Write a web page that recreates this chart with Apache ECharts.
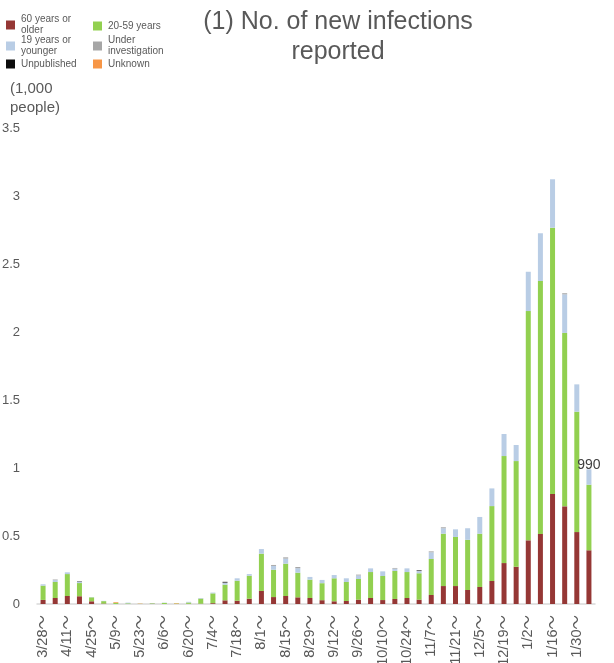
<!DOCTYPE html>
<html>
<head>
<meta charset="utf-8">
<script src="https://cdn.jsdelivr.net/npm/echarts@6/dist/echarts.min.js"></script>
<style>
  html, body { margin: 0; padding: 0; background: #ffffff; }
  #chart { width: 614px; height: 663px; }
</style>
</head>
<body>
<div id="chart"></div>
<script>
// Week start dates (each bar = one week), values in thousands of people
const categories = ['3/28～','4/4～','4/11～','4/18～','4/25～','5/2～','5/9～','5/16～','5/23～','5/30～',
  '6/6～','6/13～','6/20～','6/27～','7/4～','7/11～','7/18～','7/25～','8/1～','8/8～',
  '8/15～','8/22～','8/29～','9/5～','9/12～','9/19～','9/26～','10/3～','10/10～','10/17～',
  '10/24～','10/31～','11/7～','11/14～','11/21～','11/28～','12/5～','12/12～','12/19～','12/26～',
  '1/2～','1/9～','1/16～','1/23～','1/30～','2/6～'];

const age60plus = [0.030,0.044,0.059,0.057,0.020,0.003,0,0,0,0,
  0,0,0.001,0.002,0.006,0.027,0.024,0.039,0.096,0.051,
  0.059,0.049,0.044,0.028,0.020,0.022,0.032,0.044,0.029,0.037,
  0.044,0.032,0.066,0.132,0.132,0.103,0.125,0.169,0.301,0.274,
  0.468,0.515,0.809,0.718,0.529,0.395];

const age20to59 = [0.105,0.118,0.161,0.097,0.029,0.018,0.008,0.005,0.001,0.004,
  0.008,0.003,0.010,0.038,0.072,0.115,0.147,0.169,0.274,0.201,
  0.237,0.181,0.135,0.125,0.169,0.140,0.152,0.191,0.177,0.206,
  0.191,0.194,0.265,0.385,0.361,0.369,0.392,0.551,0.787,0.777,
  1.686,1.860,1.958,1.275,0.885,0.482];

const age19under = [0.010,0.014,0.013,0.010,0.002,0.002,0.001,0.005,0,0,
  0.002,0,0.005,0.004,0.006,0.012,0.018,0.012,0.034,0.028,
  0.038,0.033,0.020,0.024,0.024,0.027,0.026,0.027,0.034,0.017,
  0.027,0.015,0.049,0.040,0.056,0.085,0.123,0.130,0.162,0.118,
  0.289,0.351,0.356,0.284,0.201,0.113];

const underInvestigation = [0,0.004,0,0.003,0,0,0,0,0,0.002,
  0,0,0,0,0,0.004,0,0,0,0.007,
  0.009,0.009,0,0,0,0,0.006,0,0,0.005,
  0,0.003,0.007,0.007,0,0,0,0,0,0,
  0,0,0,0.008,0,0];

const unpublished = [0,0,0,0.002,0,0,0,0,0,0,
  0,0,0,0,0,0.005,0,0,0,0,
  0,0,0,0,0,0,0,0,0,0,
  0,0.004,0,0,0,0,0,0,0,0,
  0,0,0,0,0,0];

const unknown = [0,0,0,0,0,0,0.005,0,0.002,0,
  0,0.003,0,0,0,0,0,0,0,0,
  0,0,0,0,0,0,0,0,0,0,
  0,0,0,0,0,0,0,0,0,0,
  0,0,0,0,0,0];

const yTicks = [0, 0.5, 1, 1.5, 2, 2.5, 3, 3.5];

const seriesNames = ['60 years or older','20-59 years','19 years or younger','Under investigation','Unpublished','Unknown'];
const seriesData = [age60plus, age20to59, age19under, underInvestigation, unpublished, unknown];
const seriesColors = ['#953735','#92D050','#B9CDE5','#A6A6A6','#0D0D0D','#F79646'];
const legendLabels = {
  '60 years or older': '60 years or\nolder',
  '20-59 years': '20-59 years',
  '19 years or younger': '19 years or\nyounger',
  'Under investigation': 'Under\ninvestigation',
  'Unpublished': 'Unpublished',
  'Unknown': 'Unknown'
};

const FONT = "'Liberation Sans', Arial, 'Noto Sans CJK JP', sans-serif";
const lastIdx = categories.length - 1;
const lastTotal = seriesData.reduce((s, arr) => s + arr[lastIdx], 0);

const series = seriesNames.map((name, si) => ({
  name: name,
  type: 'bar',
  stack: 'total',
  barWidth: 5,
  itemStyle: { color: seriesColors[si] },
  data: seriesData[si].map((v, i) => {
    if (si === 2 && i === lastIdx) {
      return {
        value: v,
        label: {
          show: true,
          position: 'top',
          distance: -3,
          formatter: () => String(Math.round(lastTotal * 1000)),
          fontSize: 14,
          color: '#404040',
          fontFamily: FONT
        }
      };
    }
    return v;
  })
}));

// legend positions (one legend per item, Excel-like 2x3 grid)
const legendPos = [
  { left: 6, top: 14 },    // 60+
  { left: 93, top: 20.5 }, // 20-59
  { left: 6, top: 35 },    // 19-
  { left: 93, top: 35 },   // under investigation
  { left: 6, top: 58.5 },  // unpublished
  { left: 93, top: 58.5 }  // unknown
];
const legends = seriesNames.map((name, i) => ({
  data: [name],
  left: legendPos[i].left,
  top: legendPos[i].top,
  padding: 0,
  itemWidth: 9,
  itemHeight: 9,
  icon: 'rect',
  selectedMode: false,
  formatter: n => legendLabels[n],
  textStyle: { fontSize: 10, lineHeight: 11, color: '#595959', fontFamily: FONT, padding: [0,0,0,1] }
}));

const chart = echarts.init(document.getElementById('chart'), null, { renderer: 'canvas' });
chart.setOption({
  animation: false,
  backgroundColor: '#ffffff',
  title: {
    text: '(1) No. of new infections\nreported',
    left: 338,
    top: 7,
    padding: 0,
    textAlign: 'center',
    textStyle: { fontSize: 25, fontWeight: 'normal', color: '#595959', fontFamily: FONT, lineHeight: 30 }
  },
  legend: legends,
  graphic: [{
    type: 'text',
    left: 10,
    top: 80,
    style: { text: '(1,000\npeople)', fontSize: 15, lineHeight: 18.5, fill: '#595959', fontFamily: FONT }
  }],
  grid: { left: 37, right: 19, top: 128, bottom: 59, containLabel: false, outerBoundsMode: 'none' },
  xAxis: {
    type: 'category',
    data: categories,
    axisLine: { show: true, lineStyle: { color: '#D9D9D9', width: 1.5 } },
    axisTick: { show: false },
    axisLabel: {
      interval: 1, rotate: 90, fontSize: 14.5, color: '#595959',
      fontFamily: "'Liberation Sans', Arial, 'Noto Sans CJK JP', sans-serif",
      margin: 11
    }
  },
  yAxis: {
    type: 'value',
    min: yTicks[0],
    max: yTicks[yTicks.length - 1],
    interval: yTicks[1] - yTicks[0],
    axisLine: { show: false },
    axisTick: { show: false },
    splitLine: { show: false },
    axisLabel: { fontSize: 13, color: '#595959', fontFamily: FONT, margin: 17 }
  },
  series: series
});
</script>
</body>
</html>
